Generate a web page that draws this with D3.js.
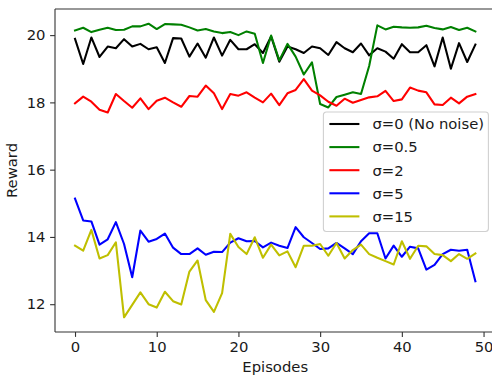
<!DOCTYPE html>
<html>
<head>
<meta charset="utf-8">
<script src="https://cdn.jsdelivr.net/npm/d3@7"></script>
<style>
  body { margin: 0; background: #fff; }
  text { font-family: "DejaVu Sans", sans-serif; fill: #1a1a1a; }
</style>
</head>
<body>
<div class="visHolder"></div>
<script>
// Episodes on the x axis
const episodes = d3.range(0, 50);

// Reward per episode for each noise level
const noNoise = [19.89, 19.14, 19.93, 19.35, 19.66, 19.61, 19.88, 19.66, 19.74, 19.58,
                 19.64, 19.17, 19.91, 19.90, 19.36, 19.75, 19.33, 19.93, 19.39, 19.86,
                 19.58, 19.58, 19.73, 19.47, 19.96, 19.21, 19.66, 19.58, 19.47, 19.66,
                 19.61, 19.41, 19.79, 19.61, 19.49, 19.75, 19.40, 19.61, 19.51, 19.30,
                 19.73, 19.49, 19.49, 19.70, 19.07, 19.93, 19.00, 19.76, 19.20, 19.72];
const sigma05 = [20.14, 20.22, 20.09, 20.16, 20.22, 20.15, 20.16, 20.26, 20.26, 20.34,
                 20.18, 20.33, 20.32, 20.31, 20.23, 20.14, 20.18, 20.11, 20.06, 20.09,
                 20.00, 20.11, 20.04, 19.17, 19.99, 19.25, 19.74, 19.36, 18.83, 19.19,
                 17.95, 17.85, 18.16, 18.23, 18.30, 18.25, 19.08, 20.29, 20.17, 20.25,
                 20.23, 20.22, 20.23, 20.28, 20.21, 20.17, 20.24, 20.15, 20.22, 20.11];
const sigma2 = [17.97, 18.17, 18.02, 17.78, 17.70, 18.25, 18.04, 17.84, 18.12, 17.80,
                18.05, 18.14, 18.00, 17.87, 18.19, 18.17, 18.50, 18.27, 17.80, 18.25,
                18.20, 18.30, 18.14, 18.00, 18.26, 17.92, 18.27, 18.37, 18.69, 18.35,
                18.21, 18.02, 17.90, 18.11, 17.99, 18.07, 18.15, 18.18, 18.34, 18.04,
                18.09, 18.44, 18.35, 18.30, 17.94, 17.92, 18.14, 17.97, 18.17, 18.25];
const sigma5 = [15.14, 14.49, 14.46, 13.77, 13.93, 14.44, 13.79, 12.80, 14.19, 13.86,
                13.94, 14.10, 13.68, 13.49, 13.49, 13.66, 13.47, 13.56, 13.55, 13.83,
                13.96, 13.87, 13.88, 13.69, 13.83, 13.74, 13.67, 14.29, 13.99, 13.82,
                13.64, 13.66, 13.82, 13.66, 13.49, 13.87, 14.11, 14.11, 13.36, 13.74,
                13.41, 13.71, 13.66, 13.03, 13.17, 13.49, 13.62, 13.59, 13.62, 12.68];
const sigma15 = [13.74, 13.59, 14.21, 13.36, 13.46, 13.84, 11.61, 11.98, 12.35, 12.00,
                 11.90, 12.37, 12.09, 11.99, 12.97, 13.30, 12.12, 11.77, 12.33, 14.09,
                 13.70, 13.49, 13.99, 13.38, 13.77, 13.45, 13.57, 13.10, 13.74, 13.74,
                 13.79, 13.44, 13.82, 13.36, 13.61, 13.77, 13.49, 13.38, 13.28, 13.18,
                 13.87, 13.35, 13.74, 13.72, 13.49, 13.46, 13.28, 13.49, 13.35, 13.51];

const seriesNames = ["σ=0 (No noise)", "σ=0.5", "σ=2", "σ=5", "σ=15"];
const seriesValues = [noNoise, sigma05, sigma2, sigma5, sigma15];
const seriesColors = ["#000000", "#008000", "#ff0000", "#0000ff", "#bfbf00"];

const xTicks = [0, 10, 20, 30, 40, 50];
const yTicks = [12, 14, 16, 18, 20];

const fullWidth = 492, fullHeight = 375;
const margin = {top: 9, left: 55},
    width = 440.4,
    height = 323;
const fontSize = 14.8;

const svg = d3.select(".visHolder").append("svg")
    .attr("width", fullWidth)
    .attr("height", fullHeight);

svg.append("defs").append("clipPath")
    .attr("id", "plot-clip")
  .append("rect")
    .attr("width", width)
    .attr("height", height);

const g = svg.append("g")
    .attr("transform", "translate(" + margin.left + "," + margin.top + ")");

// matplotlib style 5% padding on both axes
const xPad = (d3.max(episodes) - d3.min(episodes)) * 0.05;
const x = d3.scaleLinear()
    .domain([d3.min(episodes) - xPad, d3.max(episodes) + xPad])
    .range([0, width]);

const allValues = seriesValues.flat();
const yMin = d3.min(allValues), yMax = d3.max(allValues);
const yPad = (yMax - yMin) * 0.05;
const y = d3.scaleLinear()
    .domain([yMin - yPad, yMax + yPad])
    .range([height, 0]);

// Lines
const line = d3.line()
    .x((d, i) => x(episodes[i]))
    .y(d => y(d));

const plot = g.append("g").attr("clip-path", "url(#plot-clip)");
seriesValues.forEach((vals, k) => {
    plot.append("path")
        .datum(vals)
        .attr("fill", "none")
        .attr("stroke", seriesColors[k])
        .attr("stroke-width", 2.08)
        .attr("stroke-linejoin", "round")
        .attr("stroke-linecap", "square")
        .attr("d", line);
});

// Axes
const xAxis = d3.axisBottom(x).tickValues(xTicks).tickSize(4.9).tickPadding(4.6);
const yAxis = d3.axisLeft(y).tickValues(yTicks).tickSize(4.9).tickPadding(4.6);

const gx = g.append("g")
    .attr("transform", "translate(0," + height + ")")
    .call(xAxis);
const gy = g.append("g")
    .call(yAxis);

[gx, gy].forEach(ax => {
    ax.select(".domain").remove();
    ax.selectAll(".tick line").attr("stroke", "#333").attr("stroke-width", 1.1);
    ax.selectAll(".tick text")
        .style("font-size", fontSize + "px")
        .style("font-family", "DejaVu Sans, sans-serif")
        .attr("fill", "#1a1a1a");
});

// Spines (left, top, bottom; the right one falls outside the picture)
const spine = g.append("g")
    .attr("stroke", "#333")
    .attr("stroke-width", 1.1)
    .attr("fill", "none");
spine.append("line").attr("x1", 0).attr("x2", 0).attr("y1", 0).attr("y2", height);
spine.append("line").attr("x1", 0).attr("x2", width).attr("y1", 0).attr("y2", 0);
spine.append("line").attr("x1", 0).attr("x2", width).attr("y1", height).attr("y2", height);
spine.append("line").attr("x1", width).attr("x2", width).attr("y1", 0).attr("y2", height);

// Axis labels
g.append("text")
    .attr("x", width / 2)
    .attr("y", height + 40)
    .attr("text-anchor", "middle")
    .style("font-size", fontSize + "px")
    .text("Episodes");

g.append("text")
    .attr("transform", "translate(" + (-38) + "," + (height / 2) + ") rotate(-90)")
    .attr("text-anchor", "middle")
    .style("font-size", fontSize + "px")
    .text("Reward");

// Legend
const legendRight = width - 7;
const legendTop = 103;
const rowStep = 23.1;
const legendW = 165, legendH = 119.5;

const legend = g.append("g")
    .attr("transform", "translate(" + (legendRight - legendW) + "," + legendTop + ")");

legend.append("rect")
    .attr("width", legendW)
    .attr("height", legendH)
    .attr("rx", 3)
    .attr("fill", "#fff")
    .attr("fill-opacity", 0.8)
    .attr("stroke", "#d0d0d0")
    .attr("stroke-width", 1.1);

seriesNames.forEach((name, k) => {
    const cy = 12 + k * rowStep;
    legend.append("line")
        .attr("x1", 6)
        .attr("x2", 36)
        .attr("y1", cy)
        .attr("y2", cy)
        .attr("stroke", seriesColors[k])
        .attr("stroke-width", 2.08);
    legend.append("text")
        .attr("x", 49)
        .attr("y", cy)
        .attr("dy", "0.36em")
        .style("font-size", fontSize + "px")
        .text(name);
});
</script>
</body>
</html>
